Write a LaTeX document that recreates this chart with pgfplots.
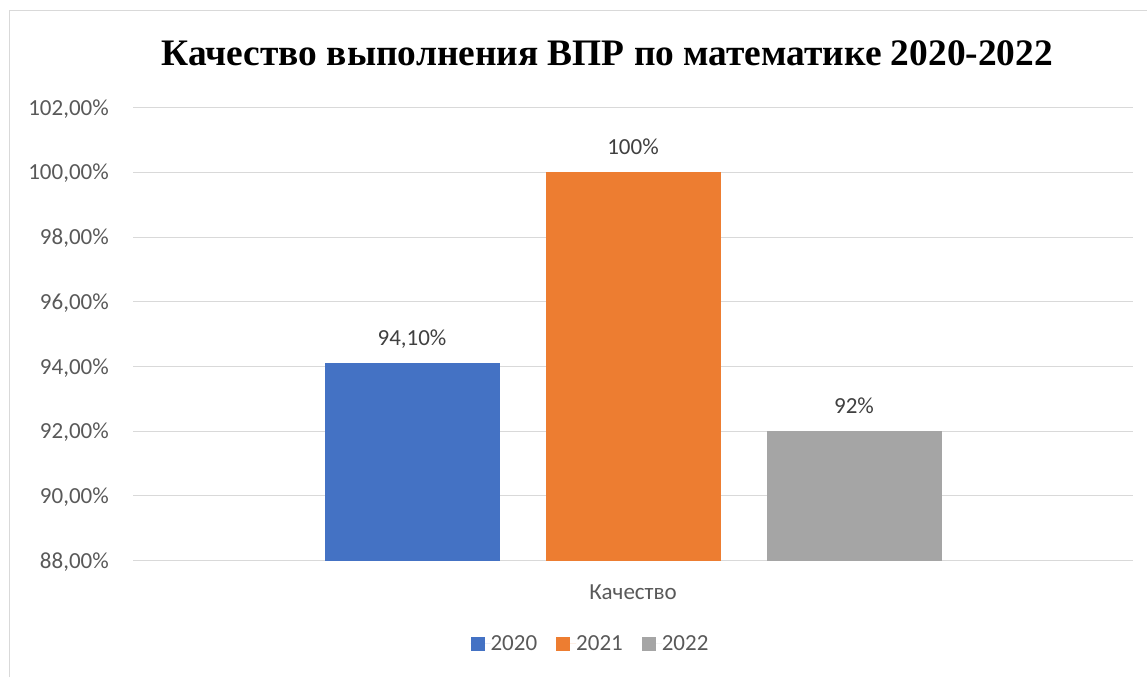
\documentclass[border=0pt]{standalone}
\usepackage{fontspec}
\setmainfont{Carlito}
\newfontfamily\titlefont{Liberation Serif}
\usepackage{pgfplots}
\pgfplotsset{compat=1.18}

\definecolor{c2020}{HTML}{4472C4}
\definecolor{c2021}{HTML}{ED7D31}
\definecolor{c2022}{HTML}{A5A5A5}
\definecolor{gridc}{HTML}{D9D9D9}
\definecolor{txt}{HTML}{595959}
\definecolor{lbl}{HTML}{404040}

\begin{document}
\begin{tikzpicture}[x=1pt,y=1pt]
\useasboundingbox (0,0) rectangle (1147,677);
% chart frame (only top and left edges are in view)
\draw[gridc, line width=1pt] (9,0) -- (9,666) -- (1147,666);
\node[anchor=base, font=\titlefont\bfseries\fontsize{37.4}{42}\selectfont]
  at (607.5,611) {Качество выполнения ВПР по математике 2020-2022};

\begin{axis}[
    at={(133pt,116.4pt)}, anchor=south west,
    scale only axis,
    width=1000pt, height=452.9pt,
    ybar,
    bar width=175pt,
    xmin=-1, xmax=1,
    ymin=88, ymax=102,
    ytick={88,90,...,102},
    yticklabels={{88,00\%},{90,00\%},{92,00\%},{94,00\%},{96,00\%},{98,00\%},{100,00\%},{102,00\%}},
    xtick={0},
    xticklabels={Качество},
    ymajorgrids,
    major grid style={gridc, line width=1pt},
    axis line style={draw=none},
    major tick length=0pt,
    tick label style={font=\fontsize{23}{27}\selectfont, text=txt, inner sep=0pt},
    yticklabel style={anchor=base east, xshift=-24pt, yshift=-7.6pt},
    xticklabel style={anchor=base, yshift=-38.8pt},
    every node near coord/.append style={font=\fontsize{23}{27}\selectfont, text=lbl,
        anchor=base, inner sep=0pt, yshift=17.6pt},
    legend columns=3,
    legend style={
        at={(0.4565,-0.184)}, anchor=center,
        draw=none, fill=none,
        font=\fontsize{23}{27}\selectfont, text=txt,
        /tikz/every even column/.append style={column sep=19pt},
        nodes={inner sep=0pt}
    },
    legend image code/.code={\fill[#1] (0pt,-7pt) rectangle (14pt,7pt);
        \path (0pt,0pt) -- (20pt,0pt);},
]

\addplot[fill=c2020, draw=none, bar shift=-221pt, nodes near coords={94,10\%}]
    coordinates {(0,94.1)};
\addlegendentry{2020}

\addplot[fill=c2021, draw=none, bar shift=0pt, nodes near coords={100\%}]
    coordinates {(0,100)};
\addlegendentry{2021}

\addplot[fill=c2022, draw=none, bar shift=221pt, nodes near coords={92\%}]
    coordinates {(0,92)};
\addlegendentry{2022}

\end{axis}
\end{tikzpicture}
\end{document}
